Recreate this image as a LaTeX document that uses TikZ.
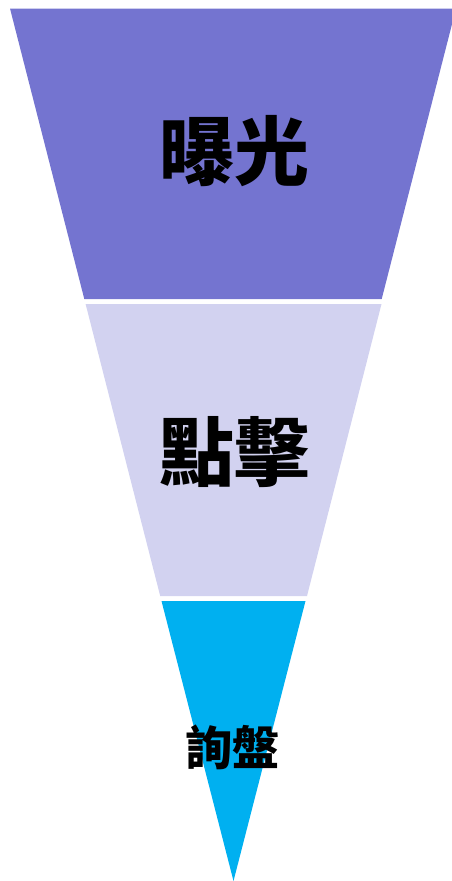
\documentclass[tikz,border=0pt]{standalone}
\usepackage{fontspec}
\newfontfamily\cjk{Noto Sans CJK TC}
\usetikzlibrary{calc}

\definecolor{bandone}{RGB}{116,116,208}
\definecolor{bandtwo}{RGB}{210,210,240}
\definecolor{bandthree}{RGB}{0,176,240}

\tikzset{
    band/.style={draw=none},
    label/.style={font=\cjk\bfseries, text=black, inner sep=0pt}
}

\begin{document}
\begin{tikzpicture}[x=1pt, y=-1pt]
    \useasboundingbox (0, 0) rectangle (452, 881);
    \clip (0, 0) rectangle (452, 881);

    % Exposure band
    \coordinate (a1) at (10, 8.5);
    \coordinate (a2) at (456, 8.5);
    \coordinate (a3) at (381.7, 299);
    \coordinate (a4) at (84.3, 299);
    \fill[bandone, band] (a1) -- (a2) -- (a3) -- (a4) -- cycle;
    \node[label, font=\cjk\bfseries\fontsize{75}{75}\selectfont] (expo) at (234, 151) {曝光};

    % Click band
    \coordinate (b1) at (85.6, 304);
    \coordinate (b2) at (381.5, 304);
    \coordinate (b3) at (307, 596);
    \coordinate (b4) at (160.2, 596);
    \fill[bandtwo, band] (b1) -- (b2) -- (b3) -- (b4) -- cycle;
    \node[label, font=\cjk\bfseries\fontsize{75}{75}\selectfont] (click) at (234, 452) {點擊};

    % Inquiry band
    \coordinate (c1) at (161.5, 601);
    \coordinate (c2) at (305.5, 601);
    \coordinate (c3) at (233.5, 881);
    \fill[bandthree, band] (c1) -- (c2) -- (c3) -- cycle;
    \node[label, font=\cjk\bfseries\fontsize{47}{47}\selectfont] (inquiry) at (232, 747) {詢盤};

\end{tikzpicture}
\end{document}
